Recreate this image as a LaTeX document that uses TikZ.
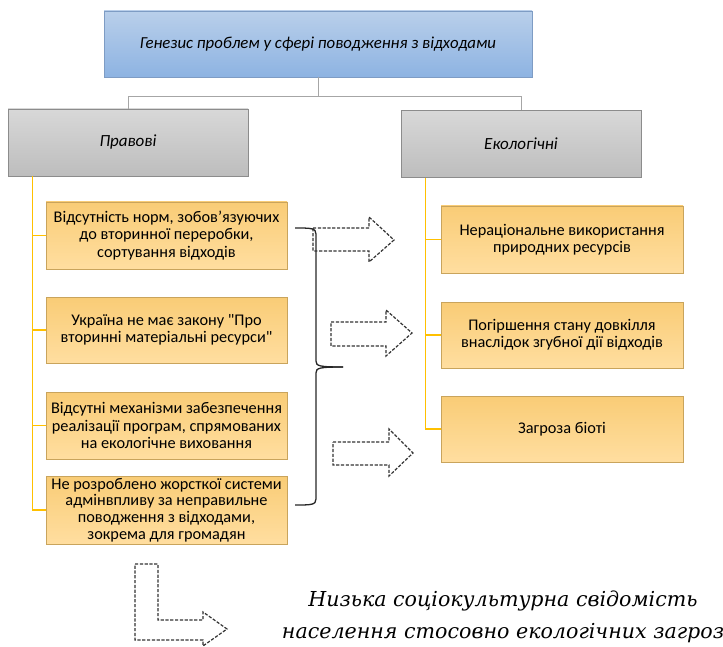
\documentclass[tikz,border=0pt]{standalone}
\usepackage{fontspec}
\setmainfont{Carlito}[Ligatures=TeXOff]
\newfontfamily\slabfont{DejaVu Serif}
\usetikzlibrary{calc}
\definecolor{bluetop}{HTML}{B9CFEA}
\definecolor{bluebot}{HTML}{8DB3E2}
\definecolor{blueedge}{HTML}{7E9CC4}
\definecolor{graytop}{HTML}{D8D8D8}
\definecolor{graybot}{HTML}{BDBDBD}
\definecolor{grayedge}{HTML}{8C8C8C}
\definecolor{yeltop}{HTML}{F9CC76}
\definecolor{yelbot}{HTML}{FFDEA0}
\definecolor{yeledge}{HTML}{C9A45C}
\definecolor{yelline}{HTML}{FFC000}
\definecolor{conngray}{HTML}{A6A6A6}
\definecolor{dashgray}{HTML}{333333}
\tikzset{
  topbox/.style={draw=blueedge, line width=0.9pt, top color=bluetop, bottom color=bluebot,
    minimum width=428pt, minimum height=66pt, inner sep=0pt, font=\fontsize{16.8}{19}\selectfont\itshape},
  catbox/.style={draw=grayedge, line width=0.9pt, top color=graytop, bottom color=graybot,
    minimum width=240pt, minimum height=67pt, inner sep=0pt, font=\fontsize{17}{19}\selectfont\itshape},
  itembox/.style={draw=yeledge, line width=0.8pt, top color=yeltop, bottom color=yelbot,
    minimum width=241pt, minimum height=67pt, inner sep=0pt, align=center,
    font=\fontsize{16.3}{17.3}\selectfont},
  tree/.style={draw=conngray, line width=1pt},
  yline/.style={draw=yelline, line width=1.1pt},
  bracestyle/.style={draw=black!85, line width=1.3pt},
  blockarrow/.style={draw=dashgray, line width=1.2pt, dash pattern=on 3.2pt off 1.6pt, line join=miter}
}
\begin{document}
\begin{tikzpicture}[x=1pt,y=-1pt]
\useasboundingbox (0,0) rectangle (723,647);

\node[topbox] (top) at (318,44) {Генезис проблем у сфері поводження з відходами};
\node[catbox] (prav) at (128,142.5) {Правові};
\node[catbox] (ekol) at (521,144) {Екологічні};

\coordinate (hub) at (318,97);
\draw[tree] (top.south) -- (hub);
\draw[tree] (prav.north) |- (ekol.north |- hub) -- (ekol.north);

\node[itembox] (L1) at (166.5,235.5) {Відсутність норм, зобов’язуючих\\до вторинної переробки,\\сортування відходів};
\node[itembox, minimum height=66pt] (L2) at (166.5,330) {Україна не має закону "Про\\вторинні матеріальні ресурси"};
\node[itembox] (L3) at (166.5,425.5) {Відсутні механізми забезпечення\\реалізації програм, спрямованих\\на екологічне виховання};
\node[itembox, minimum height=68pt, font=\fontsize{16.3}{16.6}\selectfont] (L4) at (166.5,510) {Не розроблено жорсткої системи\\адмінвпливу за неправильне\\поводження з відходами,\\зокрема для громадян};

\node[itembox, minimum width=242pt] (R1) at (562,239.5) {Нераціональне використання\\природних ресурсів};
\node[itembox, minimum width=242pt, minimum height=66pt] (R2) at (562,335) {Погіршення стану довкілля\\внаслідок згубної дії відходів};
\node[itembox, minimum width=242pt, minimum height=66pt] (R3) at (562,429) {Загроза біоті};

\coordinate (ys) at ([xshift=25pt]prav.south west);
\coordinate (ye) at ([xshift=25pt]ekol.south west);
\foreach \n in {L1,L2,L3,L4} \draw[yline] (ys) |- (\n.west);
\foreach \n in {R1,R2,R3} \draw[yline] (ye) |- (\n.west);

% brace
\coordinate (brtop) at (295,228);
\coordinate (brtip) at (343,367);
\coordinate (brbot) at (295,505);
\draw[bracestyle] (brtop) .. controls (311,228) and (316,228) .. (316,234) -- (316,361)
  .. controls (316,366) and (319,367) .. (brtip);
\draw[bracestyle] (brtip) .. controls (319,367) and (316,368) .. (316,373) -- (316,499)
  .. controls (316,505) and (311,505) .. (brbot);

% block arrows
\draw[blockarrow] (313,228) -- (369,228) -- (369,217) -- (394,240) -- (369,262) -- (369,251) -- (313,251) -- cycle;
\draw[blockarrow] (331,322) -- (386,322) -- (386,310) -- (412,333) -- (386,356) -- (386,346) -- (331,346) -- cycle;
\draw[blockarrow] (333,442) -- (389,442) -- (389,429) -- (413,453) -- (389,476) -- (389,465) -- (333,465) -- cycle;
\draw[blockarrow] (135,564) -- (158,564) -- (158,620) -- (203,620) -- (203,612) -- (227,629) -- (203,646) -- (203,640) -- (135,640) -- cycle;

\node[align=center, inner sep=0pt, font=\slabfont\itshape\fontsize{20.6}{32}\selectfont] (lowtext) at (503,617)
  {Низька соціокультурна свідомість\\населення стосовно екологічних загроз};
\end{tikzpicture}
\end{document}
